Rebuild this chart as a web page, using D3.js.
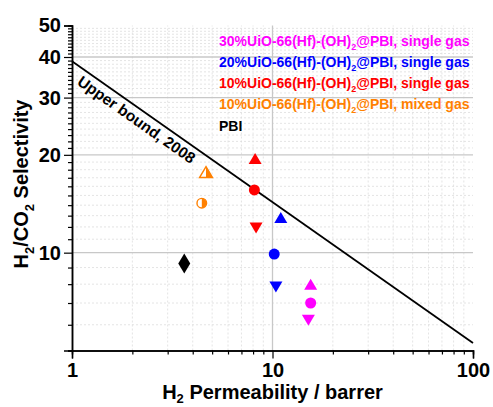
<!DOCTYPE html>
<html>
<head>
<meta charset="utf-8">
<script src="https://cdn.jsdelivr.net/npm/d3@7"></script>
<style>
  body { margin: 0; background: #fff; }
  text { font-family: Arial, "Liberation Sans", sans-serif; }
</style>
</head>
<body>
<div id="chart"></div>
<script>
var width = 493,
    height = 407;

// H2 permeability (barrer) and H2/CO2 selectivity, per sample group
var legendLabels = ["30%", "20%", "10%", "10%", "PBI"];
var legendTails = [", single gas", ", single gas", ", single gas", ", mixed gas", ""];
var groupColors = ["#ff00ff", "#0000ff", "#ff0000", "#ff8000", "#000000"];
var groupPerm = [[15.5, 15.5, 15.1], [11.0, 10.2, 10.4], [8.19, 8.12, 8.28], [4.66, 4.44], [3.63]];
var groupSel = [[7.99, 7.00, 6.19], [12.84, 9.90, 7.84], [19.5, 15.6, 11.9], [17.7, 14.2], [9.26]];
var groupMarks = [["up", "circle", "down"], ["up", "circle", "down"], ["up", "circle", "down"], ["halfUp", "halfCircle"], ["diamond"]];

// Robeson upper bound 2008
var boundPerm = [1, 100];
var boundSel = [38.8, 5.27];
var boundLabelPerm = 2.25;

var xMajor = [1, 10, 100],
    xMinor = [2, 3, 4, 5, 6, 7, 8, 9, 20, 30, 40, 50, 60, 70, 80, 90],
    yMajor = [10, 20, 30, 40, 50],
    yMinor = d3.range(5, 50).filter(function (v) { return yMajor.indexOf(v) < 0; });

var x = d3.scaleLog().domain([1, 100]).range([72, 473]);
var y = d3.scaleLog().domain([5, 50]).range([350.5, 25.5]);

var svg = d3.select("#chart")
    .append("svg")
    .attr("width", width)
    .attr("height", height);

// grid
var grid = svg.append("g");
grid.selectAll("line.ymin")
    .data(yMinor.filter(function (v) { return v > 5; }))
    .enter().append("line")
    .attr("x1", x(1)).attr("x2", x(100))
    .attr("y1", function (d) { return y(d); }).attr("y2", function (d) { return y(d); })
    .attr("stroke", "#dddddd").attr("stroke-width", 0.8).attr("stroke-dasharray", "2,2");
grid.selectAll("line.xmin")
    .data(xMinor)
    .enter().append("line")
    .attr("y1", y(5)).attr("y2", y(50))
    .attr("x1", function (d) { return x(d); }).attr("x2", function (d) { return x(d); })
    .attr("stroke", "#dddddd").attr("stroke-width", 0.8).attr("stroke-dasharray", "2,2");
grid.selectAll("line.ymaj")
    .data([10, 20, 30, 40])
    .enter().append("line")
    .attr("x1", x(1)).attr("x2", x(100))
    .attr("y1", function (d) { return y(d); }).attr("y2", function (d) { return y(d); })
    .attr("stroke", "#c8c8c8").attr("stroke-width", 1.3);
grid.append("line")
    .attr("x1", x(10)).attr("x2", x(10))
    .attr("y1", y(5)).attr("y2", y(50))
    .attr("stroke", "#c8c8c8").attr("stroke-width", 1.3);

// axes
function styleAxis(g) {
    g.select(".domain").attr("stroke", "#000").attr("stroke-width", 1.5);
    g.selectAll(".tick line").attr("stroke", "#000").attr("stroke-width", 1.2);
    g.selectAll(".tick text")
        .style("font-size", "20px")
        .style("font-weight", "bold")
        .attr("fill", "#000");
}

svg.append("g")
    .attr("transform", "translate(" + x(1) + ",0)")
    .call(d3.axisLeft(y).tickValues(yMinor).tickSize(4).tickFormat(""))
    .call(styleAxis);
svg.append("g")
    .attr("transform", "translate(" + x(1) + ",0)")
    .call(d3.axisLeft(y).tickValues(yMajor).tickSize(8).tickPadding(3).tickFormat(d3.format("d")))
    .call(styleAxis);

svg.append("g")
    .attr("transform", "translate(0," + y(5) + ")")
    .call(d3.axisBottom(x).tickValues(xMinor).tickSize(4).tickFormat(""))
    .call(styleAxis);
svg.append("g")
    .attr("transform", "translate(0," + y(5) + ")")
    .call(d3.axisBottom(x).tickValues(xMajor).tickSize(8).tickPadding(4).tickFormat(d3.format("d")))
    .call(styleAxis);

// axis titles
var xt = svg.append("text")
    .attr("x", 272.5).attr("y", 399)
    .attr("text-anchor", "middle")
    .style("font-size", "20px").style("font-weight", "bold");
xt.append("tspan").text("H");
xt.append("tspan").text("2").style("font-size", "13px").attr("dy", 4);
xt.append("tspan").text(" Permeability / barrer").attr("dy", -4);

var yt = svg.append("text")
    .attr("transform", "translate(28,184) rotate(-90)")
    .attr("text-anchor", "middle")
    .style("font-size", "20px").style("font-weight", "bold");
yt.append("tspan").text("H");
yt.append("tspan").text("2").style("font-size", "13px").attr("dy", 6);
yt.append("tspan").text("/CO").attr("dy", -6);
yt.append("tspan").text("2").style("font-size", "13px").attr("dy", 6);
yt.append("tspan").text(" Selectivity").attr("dy", -6);

// upper bound line
var boundData = boundPerm.map(function (p, i) { return [p, boundSel[i]]; });
svg.append("path")
    .datum(boundData)
    .attr("d", d3.line().x(function (d) { return x(d[0]); }).y(function (d) { return y(d[1]); }))
    .attr("fill", "none").attr("stroke", "#000").attr("stroke-width", 1.8);

var angle = Math.atan2(y(boundSel[1]) - y(boundSel[0]), x(boundPerm[1]) - x(boundPerm[0])) * 180 / Math.PI;
var slope = Math.log(boundSel[1] / boundSel[0]) / Math.log(boundPerm[1] / boundPerm[0]);
var labelSel = boundSel[0] * Math.pow(boundLabelPerm, slope);
svg.append("text")
    .attr("transform", "translate(" + x(boundLabelPerm) + "," + y(labelSel) + ") rotate(" + angle + ")")
    .attr("x", 0).attr("y", 16)
    .attr("text-anchor", "middle")
    .style("font-size", "15.5px").style("font-weight", "bold")
    .text("Upper bound, 2008");

// markers
function markPath(type, cx, cy) {
    var w = 6.5, h = 5.5;
    if (type === "up" || type === "halfUp")
        return "M" + (cx - w) + "," + (cy + h) + "L" + (cx + w) + "," + (cy + h) + "L" + cx + "," + (cy - h) + "Z";
    if (type === "down")
        return "M" + (cx - w) + "," + (cy - h) + "L" + (cx + w) + "," + (cy - h) + "L" + cx + "," + (cy + h) + "Z";
    if (type === "diamond")
        return "M" + cx + "," + (cy - 10) + "L" + (cx + 6) + "," + cy + "L" + cx + "," + (cy + 10) + "L" + (cx - 6) + "," + cy + "Z";
    return null;
}

var points = [];
groupPerm.forEach(function (arr, gi) {
    arr.forEach(function (p, i) {
        points.push({ perm: p, sel: groupSel[gi][i], mark: groupMarks[gi][i], color: groupColors[gi] });
    });
});

var pg = svg.append("g");
points.forEach(function (d) {
    var cx = x(d.perm), cy = y(d.sel);
    if (d.mark === "circle") {
        pg.append("circle").attr("cx", cx).attr("cy", cy).attr("r", 5.5).attr("fill", d.color);
    } else if (d.mark === "halfCircle") {
        pg.append("circle").attr("cx", cx).attr("cy", cy).attr("r", 4.8)
            .attr("fill", "#fff").attr("stroke", d.color).attr("stroke-width", 1.4);
        pg.append("path")
            .attr("d", "M" + cx + "," + (cy - 4.8) + "A4.8,4.8 0 0,1 " + cx + "," + (cy + 4.8) + "Z")
            .attr("fill", d.color);
    } else if (d.mark === "halfUp") {
        pg.append("path").attr("d", markPath("halfUp", cx, cy))
            .attr("fill", "#fff").attr("stroke", d.color).attr("stroke-width", 1.4).attr("stroke-linejoin", "miter");
        pg.append("path")
            .attr("d", "M" + cx + "," + (cy - 5.5) + "L" + (cx + 6.5) + "," + (cy + 5.5) + "L" + cx + "," + (cy + 5.5) + "Z")
            .attr("fill", d.color);
    } else {
        pg.append("path").attr("d", markPath(d.mark, cx, cy)).attr("fill", d.color);
    }
});

// legend
var leg = svg.append("g");
legendLabels.forEach(function (lab, i) {
    var t = leg.append("text")
        .attr("x", 219).attr("y", 45.7 + i * 21.25)
        .attr("fill", groupColors[i])
        .style("font-size", "14px").style("font-weight", "bold");
    if (lab === "PBI") {
        t.text(lab);
        return;
    }
    t.append("tspan").text(lab + "UiO-66(Hf)-(OH)");
    t.append("tspan").text("2").style("font-size", "9px").attr("dy", 4);
    t.append("tspan").text("@PBI" + legendTails[i]).attr("dy", -4);
});
</script>
</body>
</html>
